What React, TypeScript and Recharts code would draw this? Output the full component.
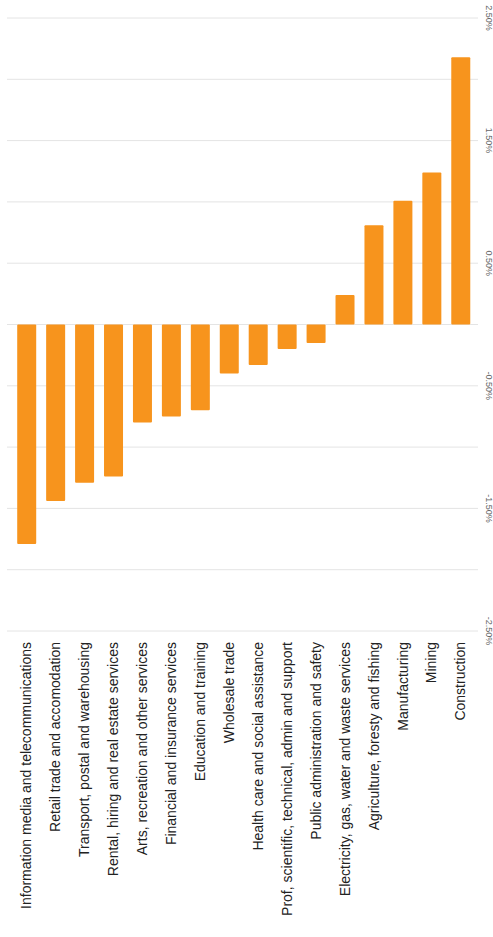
import { BarChart, Bar, XAxis, YAxis, CartesianGrid } from "recharts";

const industries = [
  "Information media and telecommunications",
  "Retail trade and accomodation",
  "Transport, postal and warehousing",
  "Rental, hiring and real estate services",
  "Arts, recreation and other services",
  "Financial and insurance services",
  "Education and training",
  "Wholesale trade",
  "Health care and social assistance",
  "Prof, scientific, technical, admin and support",
  "Public administration and safety",
  "Electricity, gas, water and waste services",
  "Agriculture, foresty and fishing",
  "Manufacturing",
  "Mining",
  "Construction",
];

const change = [
  -1.79, -1.44, -1.29, -1.24, -0.8, -0.75, -0.7, -0.4, -0.33, -0.2, -0.15, 0.24, 0.81, 1.01,
  1.24, 2.18,
];

const valueTicks = [-2.5, -2, -1.5, -1, -0.5, 0, 0.5, 1, 1.5, 2, 2.5];
const labelledTicks = [-2.5, -1.5, -0.5, 0.5, 1.5, 2.5];

const FONT = '"Liberation Sans", Arial, sans-serif';

const data = industries.map((name, i) => ({ name, value: change[i] }));

function IndustryTick(props: any) {
  const { x, y, payload } = props;
  return (
    <text
      x={x}
      y={y}
      dy="0.35em"
      transform={`rotate(-90, ${x}, ${y})`}
      textAnchor="end"
      fontSize={14}
      fontFamily={FONT}
      fill="#222"
    >
      {payload.value}
    </text>
  );
}

function PercentTick(props: any) {
  const { x, y, payload } = props;
  if (!labelledTicks.includes(payload.value)) return null;
  return (
    <text
      x={x}
      y={y}
      dy="0.35em"
      transform={`rotate(90, ${x}, ${y})`}
      textAnchor="middle"
      fontSize={9}
      fontFamily={FONT}
      fill="#666"
    >
      {payload.value.toFixed(2) + "%"}
    </text>
  );
}

export default function App() {
  return (
    <div style={{ position: "absolute", left: 0, top: 0, background: "#fff" }}>
      <BarChart
        width={493}
        height={937}
        data={data}
        margin={{ top: 18, right: 0, bottom: 0, left: 7 }}
        barCategoryGap="18%"
      >
        <CartesianGrid vertical={false} stroke="#e4e4e4" />
        <XAxis
          dataKey="name"
          interval={0}
          height={306}
          padding={{ left: 5, right: 3 }}
          axisLine={false}
          tickLine={false}
          tickSize={0}
          tickMargin={11}
          tick={<IndustryTick />}
        />
        <YAxis
          orientation="right"
          width={15}
          domain={[-2.5, 2.5]}
          ticks={valueTicks}
          axisLine={false}
          tickLine={false}
          tickSize={0}
          tickMargin={11}
          tick={<PercentTick />}
        />
        <Bar dataKey="value" fill="#F7941D" radius={1} isAnimationActive={false} />
      </BarChart>
    </div>
  );
}
